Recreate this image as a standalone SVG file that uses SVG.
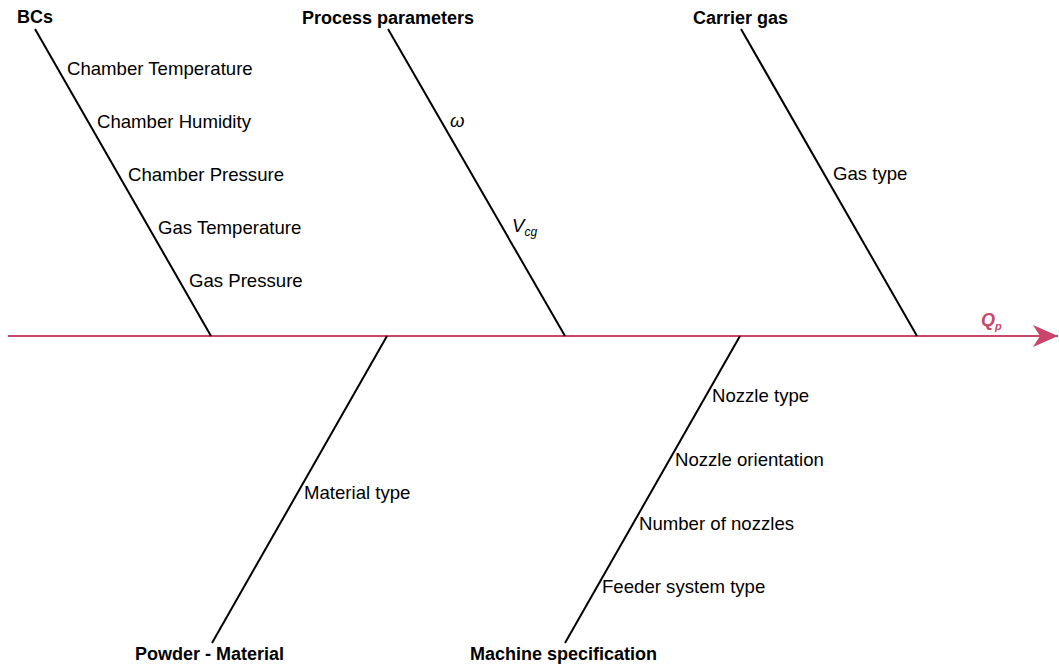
<svg xmlns="http://www.w3.org/2000/svg" width="1059" height="664" viewBox="0 0 1059 664">
<style>
text{font-family:"Liberation Sans",Arial,Helvetica,sans-serif;font-size:18.6px;fill:#000}
.t{font-weight:bold;font-size:18px}
.rib{stroke:#000;stroke-width:2;fill:none}
.sp{stroke:#C9466A;stroke-width:2;fill:none}
.it{font-style:italic}
.q{fill:#C9466A;font-weight:bold;font-style:italic;font-size:18px}
</style>
<defs>
<marker id="ah" markerUnits="userSpaceOnUse" markerWidth="30" markerHeight="30" refX="25" refY="11" orient="auto">
<path d="M0,0 L25,11 L0,22 L7,11 Z" fill="#C9466A"/>
</marker>
</defs>
<rect width="1059" height="664" fill="#fff"/>
<g id="connectors">
<line class="sp" x1="8" y1="336" x2="1058" y2="336" marker-end="url(#ah)"/>
<line class="rib" x1="35" y1="29" x2="211" y2="336"/>
<line class="rib" x1="388" y1="29" x2="565" y2="336"/>
<line class="rib" x1="741" y1="29" x2="917" y2="336"/>
<line class="rib" x1="387" y1="336" x2="212" y2="643"/>
<line class="rib" x1="740" y1="336" x2="565" y2="643"/>
</g>
<g id="bcs">
<text class="t" x="17" y="23">BCs</text>
<text x="67" y="75">Chamber Temperature</text>
<text x="97" y="128">Chamber Humidity</text>
<text x="128" y="181">Chamber Pressure</text>
<text x="158" y="234">Gas Temperature</text>
<text x="189" y="287">Gas Pressure</text>
</g>
<g id="process-parameters">
<text class="t" x="302" y="24">Process parameters</text>
<text class="it" x="450" y="127">ω</text>
<text class="it" x="512" y="232">V<tspan font-size="12" dy="4">cg</tspan></text>
</g>
<g id="carrier-gas">
<text class="t" x="693" y="24">Carrier gas</text>
<text x="833" y="180">Gas type</text>
</g>
<g id="powder-material">
<text class="t" x="135" y="660">Powder - Material</text>
<text x="304" y="499">Material type</text>
</g>
<g id="machine-specification">
<text class="t" x="470" y="660">Machine specification</text>
<text x="712" y="402">Nozzle type</text>
<text x="675" y="466">Nozzle orientation</text>
<text x="639" y="530">Number of nozzles</text>
<text x="602" y="593">Feeder system type</text>
</g>
<g id="effect">
<text class="q" x="981" y="326">Q<tspan font-size="11" dy="4">p</tspan></text>
</g>
</svg>
